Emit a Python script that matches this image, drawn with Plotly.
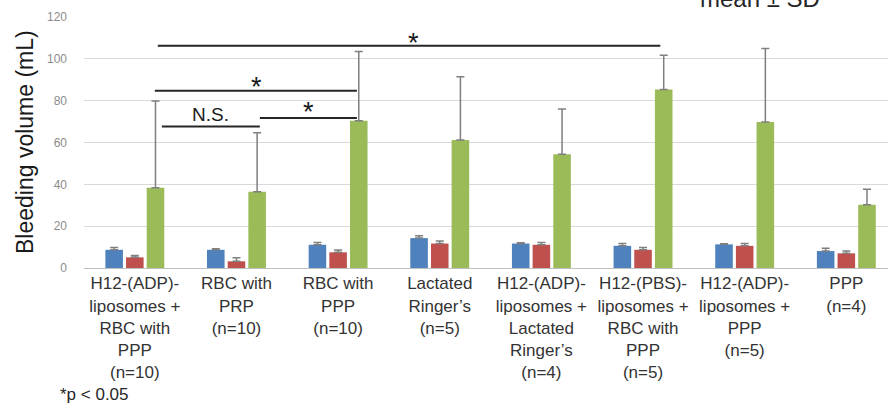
import plotly.graph_objects as go

categories = [
    "H12-(ADP)-<br>liposomes +<br>RBC with<br>PPP<br>(n=10)",
    "RBC with<br>PRP<br>(n=10)",
    "RBC with<br>PPP<br>(n=10)",
    "Lactated<br>Ringer\u2019s<br>(n=5)",
    "H12-(ADP)-<br>liposomes +<br>Lactated<br>Ringer\u2019s<br>(n=4)",
    "H12-(PBS)-<br>liposomes +<br>RBC with<br>PPP<br>(n=5)",
    "H12-(ADP)-<br>liposomes +<br>PPP<br>(n=5)",
    "PPP<br>(n=4)",
]
series_names = ["Series 1", "Series 2", "Series 3"]
blue_mean = [8.7, 8.7, 11.1, 14.3, 11.7, 10.6, 11.3, 8.1]
blue_sd = [1.1, 0.5, 1.1, 1.1, 0.4, 1.1, 0.3, 1.3]
red_mean = [5.1, 3.2, 7.5, 11.7, 11.1, 8.7, 10.6, 7.0]
red_sd = [0.9, 1.7, 1.1, 1.2, 1.1, 1.1, 1.1, 1.1]
green_mean = [38.4, 36.5, 70.4, 61.2, 54.4, 85.3, 69.8, 30.2]
green_sd = [41.4, 28.2, 33.1, 30.2, 21.6, 16.4, 35.1, 7.5]
y_ticks = [0, 20, 40, 60, 80, 100, 120]

# significance brackets: (x start, x end, y level, label, label x, label y)
sig_lines = [
    (0.226, 5.17, 106.2, "*", 2.74, 107.6),
    (0.197, 2.185, 84.7, "*", 1.20, 86.5),
    (0.266, 1.23, 67.7, "N.S.", 0.74, 73.5),
    (1.23, 2.185, 71.7, "*", 1.71, 74.8),
]

colors = ["#4F81BD", "#C0504D", "#9BBB59"]
font_family = "Liberation Sans, Arial, sans-serif"

fig = go.Figure()
for name, mean, sd, col in zip(series_names,
                               [blue_mean, red_mean, green_mean],
                               [blue_sd, red_sd, green_sd], colors):
    fig.add_trace(go.Bar(
        x=categories, y=mean, name=name, marker=dict(color=col, line=dict(width=0)),
        error_y=dict(type="data", array=sd, arrayminus=[0] * len(sd), symmetric=False,
                     color="#7f7f7f", thickness=1.5, width=4),
    ))

for x0, x1, yv, lab, lx, ly in sig_lines:
    fig.add_shape(type="line", xref="x", yref="y", x0=x0, x1=x1, y0=yv, y1=yv,
                  line=dict(color="#262626", width=2))
    fig.add_annotation(xref="x", yref="y", x=lx, y=ly, text=lab, showarrow=False,
                       font=dict(family=font_family, size=27 if lab == "*" else 19,
                                 color="#1a1a1a"),
                       yanchor="middle", xanchor="center")

fig.add_annotation(xref="paper", yref="paper", x=-0.0734, y=0.502,
                   text="Bleeding volume (mL)", textangle=-90, showarrow=False,
                   font=dict(family=font_family, size=23, color="#1a1a1a"),
                   xanchor="center", yanchor="middle")
fig.add_annotation(xref="paper", yref="paper", x=-0.0323, y=-0.5036,
                   text="*p &lt; 0.05", showarrow=False,
                   font=dict(family=font_family, size=17, color="#262626"),
                   xanchor="left", yanchor="middle")
fig.add_annotation(xref="paper", yref="paper", x=0.841, y=1.0,
                   text="mean \u00b1 SD", showarrow=False,
                   font=dict(family=font_family, size=24, color="#262626"),
                   xanchor="center", yanchor="bottom", yshift=3)

fig.update_layout(
    width=888, height=403,
    margin=dict(l=84, r=0, t=17, b=135, pad=0),
    plot_bgcolor="white", paper_bgcolor="white",
    barmode="group", bargap=0.39, bargroupgap=0.15,
    showlegend=False,
    font=dict(family=font_family),
    xaxis=dict(range=[-0.5, 7.41], showgrid=False, showline=True, linecolor="#bfbfbf",
               linewidth=1, ticks="", tickfont=dict(size=17, color="#333333"),
               tickangle=0, automargin=False),
    yaxis=dict(range=[0, 120], tickvals=y_ticks, showgrid=True, gridcolor="#d9d9d9",
               gridwidth=1, zeroline=False, showline=False, ticks="",
               tickfont=dict(size=12, color="#8c8c8c"), ticklabelstandoff=16,
               automargin=False),
)

fig.write_html("out.html", config={"displayModeBar": False},
               post_script="document.body.style.margin='0';document.body.style.overflow='hidden';")
